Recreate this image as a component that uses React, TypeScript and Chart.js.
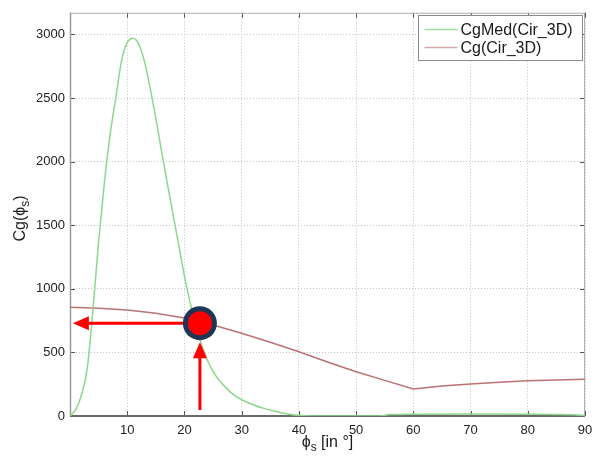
import React, { useEffect, useRef } from "react";
import { Chart, registerables } from "chart.js";

Chart.register(...registerables);

// ---------- data ----------
const SERIES_NAMES = ["CgMed(Cir_3D)", "Cg(Cir_3D)"];

const GREEN_X = [0, 1, 2, 3, 4, 5, 6, 7, 8, 9, 10, 11, 12, 13, 14, 15, 16, 17, 18, 19, 20, 21, 22, 23, 24, 25, 26, 27, 28, 29, 30, 32, 34, 36, 38, 40, 45, 50, 54, 56, 60, 70, 80, 88, 90];
const GREEN_Y = [0, 50, 165, 370, 830, 1370, 1830, 2210, 2500, 2790, 2935, 2970, 2925, 2790, 2580, 2340, 2080, 1830, 1585, 1345, 1100, 890, 710, 560, 440, 350, 285, 235, 190, 155, 128, 88, 58, 35, 16, 4, 0, 0, 0, 12, 14, 15, 14, 10, 2];

const RED_X = [0, 5, 10, 15, 20, 25, 30, 35, 40, 45, 50, 55, 60, 65, 70, 75, 80, 85, 90];
const RED_Y = [855, 848, 833, 808, 770, 715, 650, 580, 505, 425, 348, 280, 212, 235, 251, 265, 277, 284, 288];

const X_TICKS = [0, 10, 20, 30, 40, 50, 60, 70, 80, 90];
const Y_TICKS = [0, 500, 1000, 1500, 2000, 2500, 3000];
const X_MIN = 0;
const X_MAX = 90;
const Y_MIN = 0;
const Y_MAX = 3170;

// annotation marker (data coords)
const MARK_X = 22.7;
const MARK_Y = 730;
const ARROW_LEFT_X = 0.5;
const ARROW_BOTTOM_Y = 47;

const FONT = "'Liberation Sans', Arial, Helvetica, sans-serif";
const GREEN = "rgb(140, 215, 140)";
const RED = "rgb(185, 115, 115)";

const chartPlugin = {
  id: "matlabDecor",
  beforeDatasetsDraw(chart: any) {
    const { ctx, chartArea } = chart;
    const { left, right, top, bottom } = chartArea;
    const xs = chart.scales.x;
    const ys = chart.scales.y;
    ctx.save();
    ctx.strokeStyle = "#555";
    ctx.lineWidth = 1;
    const tl = 5;
    xs.ticks.forEach((t: any) => {
      const px = Math.round(xs.getPixelForValue(t.value)) + 0.5;
      ctx.beginPath();
      ctx.moveTo(px, bottom);
      ctx.lineTo(px, bottom - tl);
      ctx.moveTo(px, top);
      ctx.lineTo(px, top + tl);
      ctx.stroke();
    });
    ys.ticks.forEach((t: any) => {
      const py = Math.round(ys.getPixelForValue(t.value)) + 0.5;
      ctx.beginPath();
      ctx.moveTo(left, py);
      ctx.lineTo(left + tl, py);
      ctx.moveTo(right, py);
      ctx.lineTo(right - tl, py);
      ctx.stroke();
    });
    ctx.lineWidth = 1;
    ctx.strokeStyle = "#b0b0b0";
    ctx.beginPath();
    ctx.moveTo(left, top + 0.5);
    ctx.lineTo(right, top + 0.5);
    ctx.moveTo(right - 0.5, top);
    ctx.lineTo(right - 0.5, bottom);
    ctx.stroke();
    ctx.strokeStyle = "#9a9a9a";
    ctx.lineWidth = 1.5;
    ctx.beginPath();
    ctx.moveTo(left + 0.5, top);
    ctx.lineTo(left + 0.5, bottom);
    ctx.stroke();
    ctx.strokeStyle = "#6a6a6a";
    ctx.lineWidth = 2;
    ctx.beginPath();
    ctx.moveTo(left, bottom);
    ctx.lineTo(right, bottom);
    ctx.stroke();
    ctx.restore();
  },
  afterDatasetsDraw(chart: any) {
    const { ctx } = chart;
    const xs = chart.scales.x;
    const ys = chart.scales.y;
    const cx = xs.getPixelForValue(MARK_X);
    const cy = ys.getPixelForValue(MARK_Y);
    const rOuter = 17;
    const rInner = 12;
    const leftTip = xs.getPixelForValue(ARROW_LEFT_X);
    const bottomY = ys.getPixelForValue(ARROW_BOTTOM_Y);
    ctx.save();
    ctx.fillStyle = "#ff0000";
    ctx.strokeStyle = "#ff0000";
    ctx.lineWidth = 3;
    const headL = 16;
    const headW = 7;
    ctx.beginPath();
    ctx.moveTo(cx - rOuter + 2, cy);
    ctx.lineTo(leftTip + headL - 1, cy);
    ctx.stroke();
    ctx.beginPath();
    ctx.moveTo(leftTip, cy);
    ctx.lineTo(leftTip + headL, cy - headW);
    ctx.lineTo(leftTip + headL, cy + headW);
    ctx.closePath();
    ctx.fill();
    const tipY = cy + rOuter + 2;
    ctx.beginPath();
    ctx.moveTo(cx, bottomY);
    ctx.lineTo(cx, tipY + headL - 1);
    ctx.stroke();
    ctx.beginPath();
    ctx.moveTo(cx, tipY);
    ctx.lineTo(cx - headW, tipY + headL);
    ctx.lineTo(cx + headW, tipY + headL);
    ctx.closePath();
    ctx.fill();
    ctx.beginPath();
    ctx.arc(cx, cy, rOuter, 0, Math.PI * 2);
    ctx.fillStyle = "#1f3556";
    ctx.fill();
    ctx.beginPath();
    ctx.arc(cx, cy, rInner, 0, Math.PI * 2);
    ctx.fillStyle = "#ff0000";
    ctx.fill();
    ctx.restore();
  },
  afterDraw(chart: any) {
    const { ctx, chartArea } = chart;
    ctx.save();
    const bx = 418.5, by = 15.5, bw = 164, bh = 45;
    ctx.fillStyle = "#ffffff";
    ctx.fillRect(bx, by, bw, bh);
    ctx.strokeStyle = "#8a8a8a";
    ctx.lineWidth = 1;
    ctx.strokeRect(bx, by, bw, bh);
    const colors = ["rgb(160, 220, 160)", "rgb(210, 170, 170)"];
    ctx.font = `16px ${FONT}`;
    ctx.textBaseline = "middle";
    ctx.textAlign = "left";
    SERIES_NAMES.forEach((name, i) => {
      const yy = by + 14 + i * 18;
      ctx.strokeStyle = colors[i];
      ctx.lineWidth = 1.5;
      ctx.beginPath();
      ctx.moveTo(bx + 6, yy);
      ctx.lineTo(bx + 39, yy);
      ctx.stroke();
      ctx.fillStyle = "#1a1a1a";
      ctx.fillText(name, bx + 42, yy + 1);
    });

    ctx.fillStyle = "#1a1a1a";
    ctx.textBaseline = "alphabetic";
    const big = `16px ${FONT}`;
    const small = `12px ${FONT}`;
    const p1 = "\u03d5";
    const p2 = "s";
    const p3 = " [in \u00b0]";
    ctx.font = big;
    const w1 = ctx.measureText(p1).width;
    const w3 = ctx.measureText(p3).width;
    ctx.font = small;
    const w2 = ctx.measureText(p2).width;
    const total = w1 + w2 + w3;
    const midX = (chartArea.left + chartArea.right) / 2;
    const x0 = midX - total / 2;
    const baseY = 447;
    ctx.font = big;
    ctx.fillText(p1, x0, baseY);
    ctx.font = small;
    ctx.fillText(p2, x0 + w1, baseY + 4);
    ctx.font = big;
    ctx.fillText(p3, x0 + w1 + w2, baseY);

    ctx.save();
    ctx.translate(25, (chartArea.top + chartArea.bottom) / 2 + 4);
    ctx.rotate(-Math.PI / 2);
    const q1 = "Cg(\u03d5";
    const q2 = "s";
    const q3 = ")";
    ctx.font = big;
    const v1 = ctx.measureText(q1).width;
    const v3 = ctx.measureText(q3).width;
    ctx.font = small;
    const v2 = ctx.measureText(q2).width;
    const tt = v1 + v2 + v3;
    const s0 = -tt / 2;
    ctx.font = big;
    ctx.fillText(q1, s0, 0);
    ctx.font = small;
    ctx.fillText(q2, s0 + v1, 4);
    ctx.font = big;
    ctx.fillText(q3, s0 + v1 + v2, 0);
    ctx.restore();
    ctx.restore();
  },
};

export default function App() {
  const ref = useRef<HTMLCanvasElement | null>(null);
  useEffect(() => {
    const canvas = ref.current;
    if (!canvas) return;
    const green = GREEN_X.map((x, i) => ({ x, y: GREEN_Y[i] }));
    const red = RED_X.map((x, i) => ({ x, y: RED_Y[i] }));
    const chart = new Chart(canvas, {
      type: "line",
      data: {
        datasets: [
          {
            label: SERIES_NAMES[0],
            data: green,
            borderColor: GREEN,
            borderWidth: 1.5,
            pointRadius: 0,
            cubicInterpolationMode: "monotone",
            fill: false,
          },
          {
            label: SERIES_NAMES[1],
            data: red,
            borderColor: RED,
            borderWidth: 1.5,
            pointRadius: 0,
            tension: 0,
            fill: false,
          },
        ],
      },
      options: {
        animation: false,
        responsive: false,
        devicePixelRatio: 1,
        layout: { padding: { left: 0, right: 15, top: 12, bottom: 0 } },
        plugins: { legend: { display: false }, tooltip: { enabled: false } },
        scales: {
          x: {
            type: "linear",
            min: X_MIN,
            max: X_MAX,
            afterBuildTicks: (s: any) => {
              s.ticks = X_TICKS.map((v) => ({ value: v }));
            },
            ticks: {
              autoSkip: false,
              maxRotation: 0,
              padding: 7,
              color: "#222",
              font: { family: FONT, size: 13 },
              callback: (v: any) => (v === 0 ? "" : String(v)),
            },
            grid: { color: "#c4c4c4", lineWidth: 1, drawTicks: false },
            border: { display: false, dash: [1, 2] },
            afterFit: (s: any) => {
              s.height = 42;
            },
          },
          y: {
            type: "linear",
            min: Y_MIN,
            max: Y_MAX,
            afterBuildTicks: (s: any) => {
              s.ticks = Y_TICKS.map((v) => ({ value: v }));
            },
            ticks: {
              autoSkip: false,
              padding: 5,
              color: "#222",
              font: { family: FONT, size: 13 },
              callback: (v: any) => String(v),
            },
            grid: { color: "#c4c4c4", lineWidth: 1, drawTicks: false },
            border: { display: false, dash: [1, 2] },
            afterFit: (s: any) => {
              s.width = 70;
            },
          },
        },
      },
      plugins: [chartPlugin],
    } as any);
    return () => chart.destroy();
  }, []);
  return (
    <div style={{ position: "fixed", left: 0, top: 0, width: 600, height: 458, background: "#fff" }}>
      <canvas ref={ref} width={600} height={458} style={{ display: "block" }} />
    </div>
  );
}
